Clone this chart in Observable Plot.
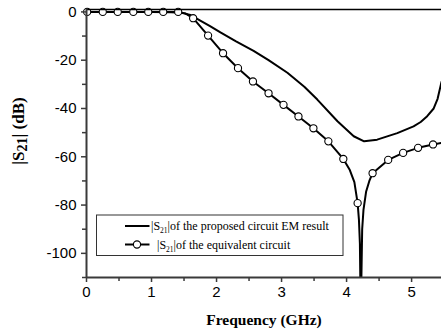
<!DOCTYPE html>
<html><head><meta charset="utf-8">
<script src="https://cdn.jsdelivr.net/npm/d3@7"></script>
<script src="https://cdn.jsdelivr.net/npm/@observablehq/plot@0.6"></script>
<style>body{margin:0;background:#fff} #chart{position:relative;width:441px;height:333px}</style>
</head><body><div id="chart"></div>
<script>
// EM simulation result (solid line)
const emFreq = [0, 0.5, 1.0, 1.3, 1.45, 1.6, 1.75, 1.9, 2.06, 2.3, 2.57, 2.8, 3.09, 3.35, 3.55, 3.86, 4.11, 4.27, 4.47, 4.78, 5.03, 5.14, 5.24, 5.34, 5.40, 5.46];
const emS21  = [0, 0, 0, -0.1, -0.3, -1.3, -3.6, -5.9, -8.5, -12.2, -16.1, -20, -25.2, -31, -36.3, -45.3, -51.5, -53.6, -52.9, -50.2, -47.4, -45.6, -43.2, -40, -36, -29];
// Equivalent circuit: marker samples
const eqMarkFreq = [0.01, 0.25, 0.48, 0.72, 0.95, 1.18, 1.41, 1.64, 1.87, 2.10, 2.33, 2.56, 2.80, 3.03, 3.26, 3.49, 3.72, 3.95, 4.17, 4.40, 4.64, 4.87, 5.10, 5.33];
const eqMarkS21  = [0, 0, 0, 0, 0, 0, 0, -2.6, -9.8, -17.1, -23.3, -28.8, -33.7, -38.5, -43.3, -48.2, -53.6, -60.9, -79.2, -66.8, -61.3, -58.4, -56.3, -54.9];
// Equivalent circuit: extra line samples (notch shape and edge)
const eqExtraFreq = [1.52, 4.05, 4.12, 4.19, 4.205, 4.215, 4.22, 4.225, 4.24, 4.26, 4.30, 4.35, 5.46];
const eqExtraS21  = [-0.6, -65.5, -70.5, -86, -96, -120, -140, -115, -90, -82, -74.5, -70, -54.3];

const xMajorTicks = [0, 1, 2, 3, 4, 5];
const xMinorTicks = [0.5, 1.5, 2.5, 3.5, 4.5, 5.5];
const yMajorTicks = [0, -20, -40, -60, -80, -100];
const yMinorTicks = [-10, -30, -50, -70, -90, -110];
const xDomain = [0, 5.46];
const yDomain = [-110, 1];
const legendTexts = ["of the proposed circuit EM result", "of the equivalent circuit"];

const em = emFreq.map((f, i) => ({f, s: emS21[i]}));
const eqMarks = eqMarkFreq.map((f, i) => ({f, s: eqMarkS21[i]}));
const eqLine = eqMarks.concat(eqExtraFreq.map((f, i) => ({f, s: eqExtraS21[i]}))).sort((a, b) => a.f - b.f);

const axisColor = "#3a3a3a";
const plot = Plot.plot({
  width: 441, height: 333,
  marginLeft: 86, marginRight: 0, marginTop: 9, marginBottom: 56,
  style: {background: "#fff", fontFamily: "'Liberation Sans', Arial, sans-serif", fontSize: "15px", color: "#000", overflow: "visible"},
  x: {domain: xDomain},
  y: {domain: yDomain},
  marks: [
    Plot.line(eqLine, {x: "f", y: "s", stroke: "#000", strokeWidth: 2, clip: true}),
    Plot.line(em, {x: "f", y: "s", stroke: "#000", strokeWidth: 2, clip: true}),
    Plot.dot(eqMarks, {x: "f", y: "s", r: 3.6, fill: "#fff", stroke: "#000", strokeWidth: 1.1}),
    Plot.ruleY([yDomain[1]], {stroke: "#000", strokeWidth: 1.5}),
    Plot.ruleX([xDomain[0]], {stroke: axisColor, strokeWidth: 2}),
    Plot.ruleY([yDomain[0]], {stroke: axisColor, strokeWidth: 2}),
    Plot.axisX(xMajorTicks, {tickSize: 5, tickPadding: 4, stroke: axisColor, strokeWidth: 1.5, tickFormat: d => String(d), label: null, fill: "#000"}),
    Plot.axisX(xMinorTicks, {tickSize: 4, text: null, stroke: axisColor, strokeWidth: 1.5, label: null}),
    Plot.axisY(yMajorTicks, {tickSize: 5, tickPadding: 5, stroke: axisColor, strokeWidth: 1.5, tickFormat: d => String(d), label: null, fill: "#000"}),
    Plot.axisY(yMinorTicks, {tickSize: 4, text: null, stroke: axisColor, strokeWidth: 1.5, label: null})
  ]
});
document.getElementById("chart").appendChild(plot);

const svg = d3.select(plot);
const serif = "'Liberation Serif', 'Times New Roman', serif";
// x label
svg.append("text").attr("x", 264).attr("y", 325).attr("text-anchor", "middle")
  .attr("font-family", serif).attr("font-weight", "bold").attr("font-size", 15.5).attr("fill", "#000")
  .text("Frequency (GHz)");
// y label
const yl = svg.append("text").attr("transform", "translate(24,131) rotate(-90)").attr("text-anchor", "middle")
  .attr("font-family", serif).attr("font-weight", "bold").attr("font-size", 17).attr("fill", "#000");
yl.append("tspan").text("|S");
yl.append("tspan").attr("dy", 3).attr("font-size", 14).text("21");
yl.append("tspan").attr("dy", -3).text("| (dB)");

// legend
const lg = svg.append("g").attr("text-anchor", "start");
lg.append("rect").attr("x", 96.5).attr("y", 215).attr("width", 246.5).attr("height", 40.5)
  .attr("fill", "#fff").attr("stroke", "#333").attr("stroke-width", 1);
const rows = [{y: 226, marker: false, tx: 151}, {y: 244.5, marker: true, tx: 157}];
rows.forEach((r, i) => {
  lg.append("line").attr("x1", 125).attr("x2", 149.5).attr("y1", r.y).attr("y2", r.y).attr("stroke", "#000").attr("stroke-width", 2);
  if (r.marker) lg.append("circle").attr("cx", 137).attr("cy", r.y).attr("r", 3.6).attr("fill", "#fff").attr("stroke", "#000").attr("stroke-width", 1.1);
  const t = lg.append("text").attr("x", r.tx).attr("y", r.y + 4).attr("text-anchor", "start").attr("font-family", serif).attr("font-size", 12).attr("fill", "#000");
  t.append("tspan").text("|S");
  t.append("tspan").attr("dy", 3).attr("font-size", 7.5).text("21");
  t.append("tspan").attr("dy", -3).text("|" + legendTexts[i]);
});
</script>
</body></html>
